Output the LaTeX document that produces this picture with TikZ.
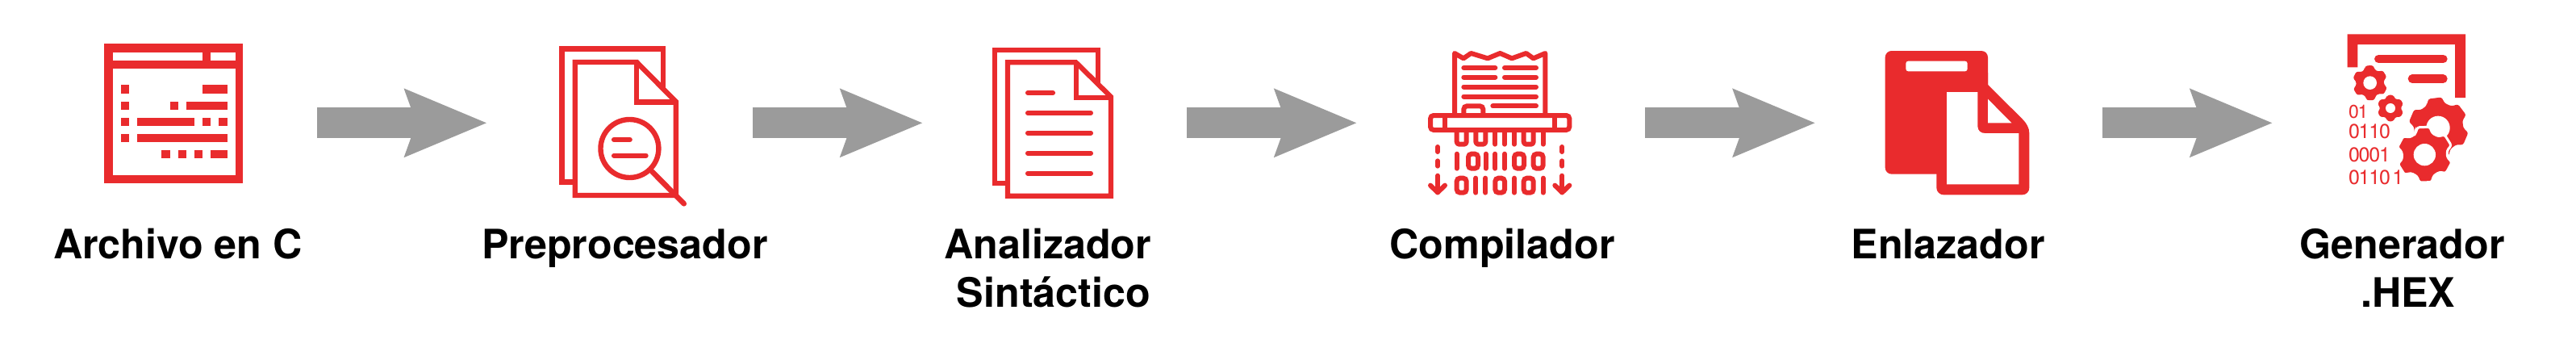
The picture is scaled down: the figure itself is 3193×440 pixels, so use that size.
\documentclass[tikz,border=0pt]{standalone}
\usepackage{fontspec}
\setmainfont{TeX Gyre Heros}
\newfontfamily\digitfont[LetterSpace=-5]{TeX Gyre Heros}
\usetikzlibrary{arrows.meta}
\definecolor{iconred}{HTML}{E92B2D}
\definecolor{arrowgray}{HTML}{9B9B9B}
\tikzset{
  iconbox/.style={inner sep=0pt,outer sep=0pt,minimum height=10pt,draw=none},
  bigarrow/.style={draw=arrowgray,line width=37.7pt,-{Stealth[length=100.5pt,width=80pt,inset=12.5pt,fill=arrowgray]}},
  steplabel/.style={font=\fontsize{50.2}{60}\selectfont\bfseries,text=black,anchor=base west,inner sep=0pt,outer sep=0pt,align=left},
  digits/.style={font=\digitfont\fontsize{25}{25}\selectfont,text=iconred,anchor=base west,inner sep=0pt,outer sep=0pt},
  zoomwide/.style={shift={#1},x=.38265pt,y=-.33333pt},
  zoomwider/.style={shift={#1},x=.5102pt,y=-.33333pt},
  zoomtrue/.style={shift={#1},x=.33333pt,y=-.33333pt},
  stroke/.style={draw=iconred,line width=#1,line join=miter},
  stroke/.default=6.4pt,
  rstroke/.style={draw=iconred,line width=#1,line cap=round,line join=round},
  rstroke/.default=6pt,
}
\newcommand{\gearfill}[7][]{%
  \begin{scope}[shift={(#2,#3)}]
    \pgfmathsetmacro{\gang}{360/#6}
    \pgfmathtruncatemacro{\glast}{#6-1}
    \fill[iconred,rounded corners=2.5pt,#1] ({#7-.36*\gang}:#5)
      \foreach \k in {0,...,\glast} {
        -- ({#7+\k*\gang-.36*\gang}:#5) -- ({#7+\k*\gang-.21*\gang}:#4)
        -- ({#7+\k*\gang+.21*\gang}:#4) -- ({#7+\k*\gang+.36*\gang}:#5)
      } -- cycle;
  \end{scope}}
\begin{document}
\begin{tikzpicture}[x=1pt,y=-1pt]
\useasboundingbox (0,0) rectangle (3193,440);
\fill[white] (0,0) rectangle (3193,440);

% invisible icon holders, connectors run between them
\node[iconbox,minimum width=363pt] (icon1) at (211.5,152.3) {};
\node[iconbox,minimum width=328.6pt] (icon2) at (768.5,152.3) {};
\node[iconbox,minimum width=326.5pt] (icon3) at (1307.65,152.3) {};
\node[iconbox,minimum width=356.5pt] (icon4) at (1860.75,152.3) {};
\node[iconbox,minimum width=355.2pt] (icon5) at (2428.4,152.3) {};
\node[iconbox,minimum width=342.5pt] (icon6) at (2988.75,152.3) {};
\draw[bigarrow] (icon1) -- (icon2);
\draw[bigarrow] (icon2) -- (icon3);
\draw[bigarrow] (icon3) -- (icon4);
\draw[bigarrow] (icon4) -- (icon5);
\draw[bigarrow] (icon5) -- (icon6);

% Icon 1
\begin{scope}[zoomwide={(60,20)}]
  \fill[iconred] (181,103) rectangle (631,620);
  \fill[white] (208,135) rectangle (499,165);
  \fill[white] (526,135) rectangle (605,165);
  \fill[white] (208,196) rectangle (605,590);
  \foreach \a/\b/\c/\d in {234/261/256/287,499/580/256/287,
    234/261/317/348,394/421/317/348,447/580/317/348,
    234/261/377/408,287/473/377/408,499/526/377/408,552/580/377/408,
    234/261/438/468,287/580/438/468,
    367/394/498/529,421/447/498/529,473/500/498/529,526/580/498/529}
    \fill[iconred] (\a,\c) rectangle (\b,\d);
\end{scope}

% Icon 2
\begin{scope}[zoomwide={(640,20)}]
  \draw[stroke] (190,616) -- (147.5,616) -- (147.5,122) -- (475,122) -- (475,270);
  \draw[stroke] (390,171) -- (517,318) -- (517,666) -- (190,666) -- (190,171) -- cycle;
  \draw[stroke] (390,171) -- (390,319) -- (517,319);
  \draw[stroke] (367,492) ellipse [x radius=94,y radius=108];
  \draw[rstroke=6.6pt] (440,578) -- (543,697);
  \draw[rstroke] (316,459) -- (368,459);
  \draw[rstroke] (316,518) -- (420,518);
\end{scope}

% Icon 3
\begin{scope}[zoomwider={(1200,20)}]
  \draw[stroke=6.2pt] (95,622) -- (65,622) -- (65,125) -- (316,125) -- (316,250);
  \draw[stroke=6.2pt] (262,172) -- (347,300) -- (347,668) -- (96,668) -- (96,172) -- cycle;
  \draw[stroke=6.2pt] (262,172) -- (262,304) -- (347,304);
  \draw[rstroke] (145,285) -- (206,285);
  \foreach \y in {360,434,509,584} \draw[rstroke] (145,\y) -- (298,\y);
\end{scope}

% Icon 4
\begin{scope}[zoomtrue={(1660,40)}]
  \draw[rstroke] (429,305) -- (429,78) -- (462,97) -- (490,78) -- (552,97) -- (598,78) -- (642,97) -- (695,78) -- (722,97) -- (766,78) -- (766,305);
  \foreach \y in {132,167} {
    \draw[rstroke] (463,\y) -- (580,\y);
    \draw[rstroke] (615,\y) -- (732,\y);
  }
  \foreach \y in {203,239} \draw[rstroke] (463,\y) -- (732,\y);
  \draw[rstroke] (571,274) -- (732,274);
  \draw[draw=iconred,line width=6pt,rounded corners=4pt] (463,310) -- (463,274) -- (535,274) -- (535,310);
  \draw[draw=iconred,line width=6pt,rounded corners=4pt] (339,309) rectangle (856,363);
  \draw[stroke=6pt] (393,309) -- (393,363);
  \draw[stroke=6pt] (802,309) -- (802,363);
  % strips
  \foreach \a/\b in {437/473,508/544,686/722}
    \draw[rstroke,rounded corners=3pt] (\a,368) -- (\a,416) -- (\b,416) -- (\b,368);
  \foreach \a in {580,615,651,758} \draw[rstroke] (\a,368) -- (\a,416);
  % row 1 and row 2
  \foreach \a in {437,545,580,615} \draw[rstroke] (\a,452) -- (\a,506);
  \foreach \a/\b in {480/516,651/687,722/758}
    \draw[draw=iconred,line width=6pt,rounded corners=4pt] (\a,452) rectangle (\b,506);
  \foreach \a in {508,544,651,758} \draw[rstroke] (\a,542) -- (\a,596);
  \foreach \a/\b in {437/473,580/615,686/722}
    \draw[draw=iconred,line width=6pt,rounded corners=4pt] (\a,542) rectangle (\b,596);
  % side arrows
  \foreach \a in {366,829} {
    \draw[rstroke] (\a,426) -- (\a,444);
    \draw[rstroke] (\a,478) -- (\a,497);
    \draw[rstroke] (\a,533) -- (\a,595);
    \draw[rstroke] (\a-27,569) -- (\a,595) -- (\a+27,569);
  }
\end{scope}

% Icon 5
\begin{scope}[zoomtrue={(2250,40)}]
  \fill[iconred,rounded corners=8pt] (260,69) -- (642,69) -- (642,300) -- (642,527) -- (260,527) -- cycle;
  \fill[iconred] (500,150) -- (642,150) -- (642,195) -- (770,322)
     .. controls (785,337) and (796,355) .. (796,375) -- (796,578)
     .. controls (796,592) and (785,604) .. (770,604) -- (477,604)
     .. controls (463,604) and (451,592) .. (451,578) -- (451,400) -- (500,400) -- cycle;
  \fill[white,rounded corners=3pt] (337,107) rectangle (566,145);
  \fill[white] (489,222) -- (604,222) -- (604,350) .. controls (604,365) and (615,375) .. (630,375)
     -- (757,375) -- (757,565) -- (489,565) -- cycle;
  \fill[white] (642,248) -- (730,337) -- (642,337) -- cycle;
\end{scope}

% Icon 6
\begin{scope}[zoomtrue={(2800,20)}]
  \fill[iconred] (329,67) -- (768,67) -- (768,303) -- (729,303) -- (729,105) -- (367,105) -- (367,190) -- (329,190) -- cycle;
  \draw[rstroke=10.6pt] (445,159) -- (685,159);
  \draw[rstroke=10.6pt] (570,233) -- (685,233);
  \gearfill{413}{248}{66}{52}{6}{-92}
  \fill[white] (413,248) circle (25);
  \gearfill{489}{342}{50}{40}{6}{-90}
  \fill[white] (489,342) circle (18);
  \gearfill{668}{413}{112}{92}{6}{-97}
  \fill[white] (666,415) circle (44);
  \gearfill[draw=white,line width=3pt]{616}{515}{105}{85}{6}{-92}
  \fill[white] (616,515) circle (41);
  \node[digits,font=\digitfont\fontsize{23}{23}\selectfont] (d1) at (333,380) {01};
  \node[digits] (d2) at (333,455) {0110};
  \node[digits] (d3) at (333,540) {0001};
  \node[digits] (d4) at (333,624) {0110\kern2.5pt 1};
\end{scope}

% Labels
\node[steplabel] (l1) at (66,320) {Archivo en C};
\node[steplabel] (l2) at (597,320) {Preprocesador};
\node[steplabel] (l3) at (1170.5,380) {Analizador\\\hspace*{15.4pt}Sintáctico};
\node[steplabel] (l4) at (1722.5,320) {Compilador};
\node[steplabel] (l5) at (2294.6,320) {Enlazador};
\node[steplabel] (l6) at (2850.5,380) {Generador\\\hspace*{75.7pt}.HEX};
\end{tikzpicture}
\end{document}
